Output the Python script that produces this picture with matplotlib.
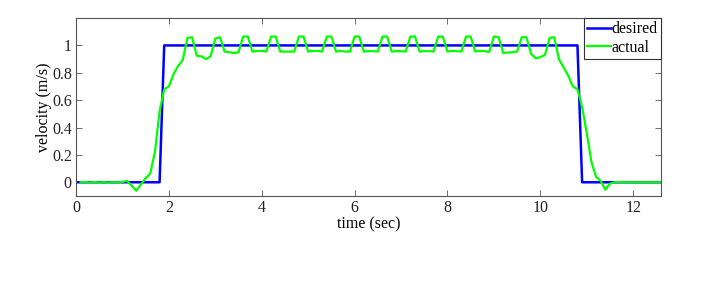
import numpy as np
import matplotlib
matplotlib.use('Agg')
import matplotlib.pyplot as plt

# desired velocity profile (step up then step down)
desired_t = [0.0, 1.8, 1.9, 10.8, 10.9, 12.6]
desired_v = [0.0, 0.0, 1.0, 1.0, 0.0, 0.0]

# measured velocity, sampled every 0.1 s from t = 0.1 to 12.6
actual_t = np.round(np.arange(1, 127) * 0.1, 1)
actual_v = [
    0.000, 0.002, -0.002, 0.002, -0.002, 0.001, -0.002, 0.001, -0.001, 0.003,   # 0.1-1.0
    0.010, -0.025, -0.062, -0.015, 0.030, 0.065, 0.220, 0.520, 0.680, 0.700,    # 1.1-2.0
    0.790, 0.850, 0.895, 1.055, 1.060, 0.925, 0.920, 0.900, 0.920, 1.050,       # 2.1-3.0
    1.060, 0.955, 0.950, 0.945, 0.950, 1.065, 1.065, 0.955, 0.960, 0.960,       # 3.1-4.0
    0.955, 1.065, 1.065, 0.955, 0.955, 0.955, 0.955, 1.065, 1.065, 0.955,       # 4.1-5.0
    0.960, 0.960, 0.955, 1.065, 1.065, 0.955, 0.960, 0.955, 0.955, 1.065,       # 5.1-6.0
    1.065, 0.955, 0.958, 0.958, 0.955, 1.065, 1.065, 0.955, 0.958, 0.958,       # 6.1-7.0
    0.955, 1.065, 1.065, 0.955, 0.958, 0.958, 0.955, 1.065, 1.065, 0.955,       # 7.1-8.0
    0.960, 0.958, 0.955, 1.065, 1.065, 0.955, 0.960, 0.958, 0.952, 1.065,       # 8.1-9.0
    1.062, 0.945, 0.948, 0.950, 0.955, 1.060, 1.060, 0.940, 0.905, 0.915,       # 9.1-10.0
    0.930, 1.055, 1.060, 0.900, 0.840, 0.780, 0.700, 0.680, 0.550, 0.360,       # 10.1-11.0
    0.150, 0.040, 0.010, -0.055, -0.010, 0.000, 0.002, 0.000, 0.000, 0.000,     # 11.1-12.0
    0.000, 0.000, 0.000, 0.000, 0.000, 0.000,                                   # 12.1-12.6
]

x_ticks = [0, 2, 4, 6, 8, 10, 12]
y_ticks = [0, 0.2, 0.4, 0.6, 0.8, 1.0]
y_tick_labels = ['0', '0.2', '0.4', '0.6', '0.8', '1']

plt.rcParams['font.family'] = ['Liberation Serif', 'DejaVu Serif']
plt.rcParams['font.size'] = 11.5

fig = plt.figure(figsize=(7.07, 2.96), dpi=100)
ax = fig.add_axes([0.1075, 0.338, 0.8275, 0.601])

ax.plot(desired_t, desired_v, color=(0, 0, 1), linewidth=1.8, label='desired')
ax.plot(actual_t, actual_v, color=(0, 1, 0), linewidth=1.6, label='actual')

ax.set_xlim(0, 12.6)
ax.set_ylim(-0.1, 1.2)
ax.set_xticks(x_ticks)
ax.set_yticks(y_ticks)
ax.set_yticklabels(y_tick_labels)
ax.tick_params(direction='in', top=True, right=True, length=4, width=0.6,
               color='#555555', labelcolor='#222222', pad=3)
for s in ax.spines.values():
    s.set_color('#555555')
    s.set_linewidth(0.8)

ax.set_xlabel('time (sec)', labelpad=0)
ax.set_ylabel('velocity (m/s)', labelpad=0)

leg = ax.legend(loc='upper right', fancybox=False, framealpha=1, borderaxespad=0,
                handlelength=1.5, handletextpad=0.05, borderpad=0.2, labelspacing=0.15)
leg.get_frame().set_edgecolor('#333333')
leg.get_frame().set_linewidth(0.8)

fig.savefig('out.png', dpi=100)
